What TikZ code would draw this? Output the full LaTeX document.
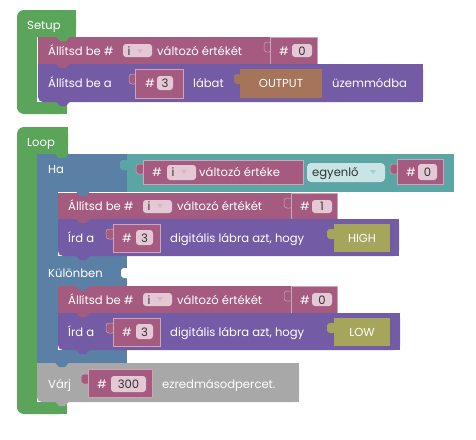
\documentclass[tikz,border=0pt]{standalone}
\usepackage{fontspec}
\setmainfont{Poppins}
\usepackage{xcolor}
\usetikzlibrary{positioning}

\definecolor{setupgreen}{HTML}{5BA55B}
\definecolor{varpink}{HTML}{A55B80}
\definecolor{pinpurple}{HTML}{745BA5}
\definecolor{ctrlblue}{HTML}{5B80A5}
\definecolor{logicteal}{HTML}{5BA5A5}
\definecolor{modebrown}{HTML}{A5745B}
\definecolor{levelolive}{HTML}{A5A55B}
\definecolor{waitgrey}{HTML}{A8A8A8}
\definecolor{fieldpink}{HTML}{E4C8D6}
\definecolor{fieldteal}{HTML}{C8E4E4}
\definecolor{fieldtext}{HTML}{333333}

\begin{document}
\begin{tikzpicture}[x=1pt,y=-1pt,
    lbl/.style={anchor=base west, inner sep=0, text=white, font=\fontsize{11.6}{13}\selectfont},
    fldtxt/.style={anchor=base, inner sep=0, text=fieldtext, font=\fontsize{11.6}{13}\selectfont},
    valbox/.style={fill=varpink, draw=varpink!55!white, line width=0.5pt},
    nub/.style={valbox, rounded corners=3pt}]
	\useasboundingbox (0,0) rectangle (476,439);

	% Setup hat
	\fill[setupgreen, rounded corners=7pt] (17,10) rectangle (76,37);
	\fill[setupgreen] (30,10) rectangle (76,37);
	\fill[setupgreen] (17,22) rectangle (37,108);
	\fill[setupgreen, rounded corners=7pt] (17,102) rectangle (67,114);
	\fill[setupgreen] (17,102) rectangle (67,107);
	\fill[setupgreen] (30,102) rectangle (67,114);
	\node[lbl] (setup) at (27,29) {Setup};

	% row 1: set variable
	\fill[varpink] (38,37) rectangle (317,64);
	\node[lbl] (setvar) at (48,55) {Állítsd be \#};
	\fill[fieldpink, rounded corners=3pt] (123,44) rectangle (152,57);
	\node[fldtxt] (varname) at (129,55) {i};
	\fill[varpink!45!white] (137,49) -- (143,49) -- (140,53) -- cycle;
	\node[lbl] (setvarb) at (157,55) {változó értékét};
	\draw[nub] (264,42) rectangle (272,52);
	\draw[valbox] (270,37) rectangle (317,64);
	\node[lbl] (hashzero) at (279,55) {\#};
	\fill[fieldpink, rounded corners=3pt] (292,44) rectangle (312,57);
	\node[fldtxt] (zero) at (302,55) {0};

	% row 2: pin mode
	\fill[pinpurple, rounded corners=5pt] (38,64) rectangle (423,102);
	\fill[pinpurple] (38,64) rectangle (423,96);
	\fill[pinpurple] (44,64) rectangle (423,102);
	\node[lbl] (pinmode) at (48,87.5) {Állítsd be a};
	\draw[nub] (129,74) rectangle (137,84);
	\draw[valbox] (135,69) rectangle (183,98);
	\node[lbl] (hashpin) at (145,87.5) {\#};
	\fill[fieldpink, rounded corners=3pt] (157,76) rectangle (173,90);
	\node[fldtxt] (pin) at (165,87.5) {3};
	\node[lbl] (labat) at (193,87.5) {lábat};
	\fill[modebrown, rounded corners=3pt] (234,74) rectangle (242,84);
	\fill[modebrown] (240,69) rectangle (322,98);
	\node[fldtxt, text=white] (output) at (281,87.5) {OUTPUT};
	\node[lbl] (uzem) at (332,87.5) {üzemmódba};

	% Loop hat
	\fill[setupgreen, rounded corners=7pt] (17,127) rectangle (68,154);
	\fill[setupgreen] (30,127) rectangle (68,154);
	\fill[setupgreen] (17,140) rectangle (37,408);
	\fill[setupgreen, rounded corners=7pt] (17,402) rectangle (67,414);
	\fill[setupgreen] (17,402) rectangle (67,407);
	\fill[setupgreen] (30,402) rectangle (67,414);
	\node[lbl] (loop) at (27,146.5) {Loop};

	% if / else
	\fill[ctrlblue] (37,154) rectangle (127,192);
	\fill[ctrlblue] (37,190) rectangle (58,356);
	\fill[ctrlblue] (37,256) rectangle (127,286);
	\fill[white, rounded corners=3pt] (121,268) rectangle (131,278);
	\fill[ctrlblue] (37,350) rectangle (127,363);
	\node[lbl] (ha) at (48,173.5) {Ha};
	\node[lbl] (kulonben) at (48,277.5) {Különben};

	% condition
	\fill[logicteal, rounded corners=3pt] (120,160) rectangle (129,170);
	\fill[logicteal] (127,154) rectangle (454,192);
	\draw[nub] (136,164) rectangle (145,174);
	\draw[valbox] (143,160) rectangle (303,184);
	\node[lbl] (hashvar) at (152,176.5) {\#};
	\fill[fieldpink, rounded corners=3pt] (167,165) rectangle (196,180);
	\node[fldtxt] (condvar) at (173,176.5) {i};
	\fill[varpink!45!white] (181,170) -- (187,170) -- (184,174) -- cycle;
	\node[lbl] (erteke) at (199,176.5) {változó értéke};
	\fill[fieldteal, rounded corners=4pt] (307,163) rectangle (385,182);
	\node[lbl, text=fieldtext] (egyenlo) at (312,176.5) {egyenlő};
	\fill[logicteal!55!white] (370,170) -- (376,170) -- (373,174) -- cycle;
	\draw[nub] (390,164) rectangle (399,174);
	\draw[valbox] (397,159) rectangle (443,184);
	\node[lbl] (hashcmp) at (406,176.5) {\#};
	\fill[fieldpink, rounded corners=3pt] (418,164) rectangle (437,180);
	\node[fldtxt] (cmpzero) at (427.5,176.5) {0};

	% then: set i to 1
	\fill[varpink] (58,193) rectangle (337,219);
	\node[lbl] (setone) at (68,210.5) {Állítsd be \#};
	\fill[fieldpink, rounded corners=3pt] (143,200) rectangle (172,213);
	\node[fldtxt] (varone) at (149,210.5) {i};
	\fill[varpink!45!white] (157,204) -- (163,204) -- (160,208) -- cycle;
	\node[lbl] (setoneb) at (177,210.5) {változó értékét};
	\draw[nub] (284,198) rectangle (293,208);
	\draw[valbox] (291,193) rectangle (337,219);
	\node[lbl] (hashone) at (300,210.5) {\#};
	\fill[fieldpink, rounded corners=3pt] (312,200) rectangle (332,213);
	\node[fldtxt] (one) at (322,210.5) {1};

	% then: write HIGH
	\fill[pinpurple, rounded corners=5pt] (58,219) rectangle (399,256);
	\fill[pinpurple] (58,219) rectangle (399,250);
	\fill[pinpurple] (64,219) rectangle (399,256);
	\node[lbl] (irdhigh) at (68,242) {Írd a};
	\draw[nub] (106,229) rectangle (115,239);
	\draw[valbox] (113,224) rectangle (160,252);
	\node[lbl] (hashhigh) at (122,242) {\#};
	\fill[fieldpink, rounded corners=3pt] (136,230) rectangle (153,245);
	\node[fldtxt] (pinhigh) at (144.5,242) {3};
	\node[lbl] (dighigh) at (170,242) {digitális lábra azt, hogy};
	\fill[levelolive, rounded corners=3pt] (327,229) rectangle (336,239);
	\fill[levelolive] (334,224) rectangle (390,252);
	\node[fldtxt, text=white] (high) at (362,242) {HIGH};

	% else: set i to 0
	\fill[varpink] (58,286) rectangle (337,313);
	\node[lbl] (setzero) at (68,304) {Állítsd be \#};
	\fill[fieldpink, rounded corners=3pt] (143,293) rectangle (172,306);
	\node[fldtxt] (varzero) at (149,304) {i};
	\fill[varpink!45!white] (157,297) -- (163,297) -- (160,301) -- cycle;
	\node[lbl] (setzerob) at (177,304) {változó értékét};
	\draw[nub] (284,291) rectangle (293,301);
	\draw[valbox] (291,286) rectangle (337,313);
	\node[lbl] (hashzerob) at (300,304) {\#};
	\fill[fieldpink, rounded corners=3pt] (312,293) rectangle (332,306);
	\node[fldtxt] (zerob) at (322,304) {0};

	% else: write LOW
	\fill[pinpurple, rounded corners=5pt] (58,313) rectangle (400,350);
	\fill[pinpurple] (58,313) rectangle (400,344);
	\fill[pinpurple] (64,313) rectangle (400,350);
	\node[lbl] (irdlow) at (68,336) {Írd a};
	\draw[nub] (106,323) rectangle (115,333);
	\draw[valbox] (113,318) rectangle (160,346);
	\node[lbl] (hashlow) at (122,336) {\#};
	\fill[fieldpink, rounded corners=3pt] (136,324) rectangle (153,339);
	\node[fldtxt] (pinlow) at (144.5,336) {3};
	\node[lbl] (diglow) at (170,336) {digitális lábra azt, hogy};
	\fill[levelolive, rounded corners=3pt] (327,323) rectangle (336,333);
	\fill[levelolive] (334,318) rectangle (390,346);
	\node[fldtxt, text=white] (low) at (362,336) {LOW};

	% wait
	\fill[waitgrey, rounded corners=5pt] (37,363) rectangle (299,402);
	\fill[waitgrey] (37,363) rectangle (299,396);
	\fill[waitgrey] (43,363) rectangle (299,402);
	\node[lbl] (varj) at (48,388.5) {Várj};
	\draw[nub] (81,374) rectangle (90,384);
	\draw[valbox] (88,369) rectangle (152,397);
	\node[lbl] (hashms) at (97,388.5) {\#};
	\fill[fieldpink, rounded corners=3pt] (111,376) rectangle (146,392);
	\node[fldtxt] (ms) at (128.5,388.5) {300};
	\node[lbl] (ezred) at (162,388.5) {ezredmásodpercet.};

	% connection tabs
	\foreach \tx/\ty/\tc in {38/37/setupgreen, 38/64/varpink, 38/102/pinpurple,
	    37/154/setupgreen, 58/192/ctrlblue, 58/219/varpink, 58/256/pinpurple,
	    58/286/ctrlblue, 58/313/varpink, 58/350/pinpurple, 37/363/ctrlblue, 37/402/waitgrey}
	    \fill[\tc] (\tx+18,\ty-0.5) -- (\tx+22,\ty+4) -- (\tx+28,\ty+4) -- (\tx+32,\ty-0.5) -- cycle;
\end{tikzpicture}
\end{document}
